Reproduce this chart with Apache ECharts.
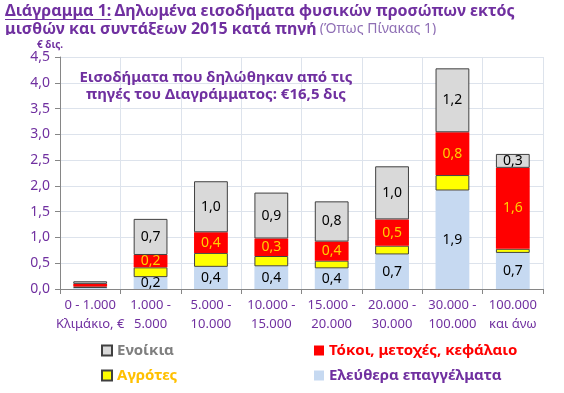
<!DOCTYPE html>
<html>
<head>
<meta charset="utf-8">
<script src="https://cdn.jsdelivr.net/npm/echarts@6/dist/echarts.min.js"></script>
<style>html,body{margin:0;padding:0;background:#fff}#c{width:564px;height:393px}</style>
</head>
<body>
<div id="c"></div>
<script>
var categories = ['0 - 1.000\nΚλιμάκιο, €', '1.000 -\n5.000', '5.000 -\n10.000', '10.000 -\n15.000', '15.000 -\n20.000', '20.000 -\n30.000', '30.000 -\n100.000', '100.000\nκαι άνω'];
var seriesNames = ['Ελεύθερα επαγγέλματα', 'Αγρότες', 'Τόκοι, μετοχές, κεφάλαιο', 'Ενοίκια'];
var freelance = [0.02, 0.23, 0.43, 0.44, 0.40, 0.67, 1.91, 0.70];
var farmers   = [0.03, 0.19, 0.27, 0.20, 0.15, 0.17, 0.30, 0.08];
var interest  = [0.05, 0.24, 0.40, 0.34, 0.37, 0.51, 0.83, 1.57];
var rents     = [0.05, 0.70, 0.99, 0.89, 0.78, 1.03, 1.24, 0.27];
var yTicks = {min: 0, max: 4.5, interval: 0.5};

var FONT = 'Noto Sans';
var PURPLE = '#7030A0';
var TITLE_SIZE = 16;
var fmt = function (v) { return v.toFixed(1).replace('.', ','); };
var lbl = function (color) {
  return {
    show: true, position: 'inside', color: color, fontFamily: FONT, fontSize: 14,
    formatter: function (p) { return p.value < 0.1 ? '' : fmt(p.value); }
  };
};

var ctx = document.createElement('canvas').getContext('2d');
ctx.font = 'bold ' + TITLE_SIZE + 'px "' + FONT + '"';
var underlineW = ctx.measureText('Διάγραμμα 1:').width;

var chart = echarts.init(document.getElementById('c'), null, {renderer: 'canvas'});

function legendAt(name, left, top, color) {
  return {
    data: [name], left: left, top: top, padding: 0, itemWidth: 10, itemHeight: 10,
    icon: 'rect', selectedMode: false,
    textStyle: {color: color, fontFamily: FONT, fontSize: 15, fontWeight: 'bold'}
  };
}

chart.setOption({
  animation: false,
  textStyle: {fontFamily: FONT},
  grid: {left: 60, right: 21, top: 57, bottom: 104, containLabel: false},
  legend: [
    legendAt('Ενοίκια', 101, 343, '#7f7f7f'),
    legendAt('Τόκοι, μετοχές, κεφάλαιο', 314, 343, '#FF0000'),
    legendAt('Αγρότες', 101, 368, '#FFC000'),
    legendAt('Ελεύθερα επαγγέλματα', 314, 368, PURPLE)
  ],
  xAxis: {
    type: 'category', data: categories,
    axisLine: {show: true, lineStyle: {color: '#868686', width: 1}},
    axisTick: {show: true, length: 5, lineStyle: {color: '#868686'}},
    splitLine: {show: true, lineStyle: {color: '#dde3ec', width: 1}},
    axisLabel: {color: PURPLE, fontFamily: FONT, fontSize: 13, lineHeight: 19, margin: 7, interval: 0}
  },
  yAxis: {
    type: 'value', min: yTicks.min, max: yTicks.max, interval: yTicks.interval,
    axisLine: {show: true, lineStyle: {color: '#868686', width: 1}},
    axisTick: {show: true, length: 5, lineStyle: {color: '#868686'}},
    splitLine: {show: true, lineStyle: {color: '#dde3ec', width: 1}},
    axisLabel: {color: PURPLE, fontFamily: FONT, fontSize: 14, margin: 10, formatter: fmt}
  },
  series: [
    {name: seriesNames[0], type: 'bar', stack: 's', data: freelance, barWidth: '56%',
     itemStyle: {color: '#C6D9F1'}, label: lbl('#000')},
    {name: seriesNames[1], type: 'bar', stack: 's', data: farmers,
     itemStyle: {color: '#FFFF00', borderColor: '#404040', borderWidth: 1}, label: {show: false}},
    {name: seriesNames[2], type: 'bar', stack: 's', data: interest,
     itemStyle: {color: '#FF0000'}, label: lbl('#FFD000')},
    {name: seriesNames[3], type: 'bar', stack: 's', data: rents,
     itemStyle: {color: '#D9D9D9', borderColor: '#404040', borderWidth: 1}, label: lbl('#000')}
  ],
  graphic: [
    {type: 'text', left: 5, top: 2, z: 10, style: {
      text: '{b|Διάγραμμα 1:} {b|Δηλωμένα εισοδήματα φυσικών προσώπων εκτός}\n{b|μισθών και συντάξεων 2015 κατά πηγή} {n|(Όπως Πίνακας 1)}',
      fill: PURPLE, lineHeight: 18,
      rich: {
        b: {fontFamily: FONT, fontSize: TITLE_SIZE, fontWeight: 'bold', fill: PURPLE, lineHeight: 18},
        n: {fontFamily: FONT, fontSize: 14, fontWeight: 'normal', fill: '#8f6fb5', lineHeight: 18}
      }
    }},
    {type: 'rect', z: 11, shape: {x: 0, y: 35, width: 564, height: 5}, style: {fill: '#fff'}},
    {type: 'line', z: 12, shape: {x1: 5, y1: 19.5, x2: 5 + underlineW, y2: 19.5}, style: {stroke: PURPLE, lineWidth: 1.2}},
    {type: 'text', left: 37, top: 40, z: 10, style: {
      text: '€ δις.', fill: PURPLE, fontFamily: FONT, fontSize: 10, fontWeight: 'bold'}},
    {type: 'text', x: 216, y: 86, z: 10, style: {
      text: 'Εισοδήματα που δηλώθηκαν από τις\nπηγές του Διαγράμματος: €16,5 δις',
      fill: PURPLE, fontFamily: FONT, fontSize: 15, fontWeight: 'bold', lineHeight: 17,
      align: 'center', verticalAlign: 'middle'}}
  ]
});
</script>
</body>
</html>
